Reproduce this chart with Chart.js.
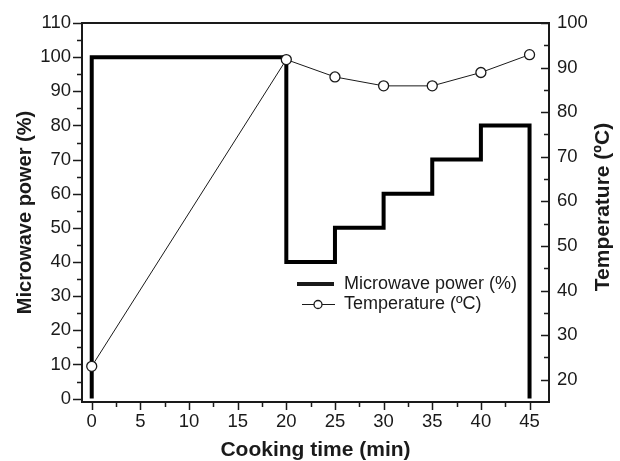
<!DOCTYPE html>
<html>
<head>
<meta charset="utf-8">
<script src="https://cdn.jsdelivr.net/npm/chart.js@4/dist/chart.umd.min.js"></script>
<style>
  html, body { margin: 0; padding: 0; background: #fff; }
  #wrap { width: 620px; height: 461px; }
</style>
</head>
<body>
<div id="wrap"><canvas id="myChart" width="620" height="461"></canvas></div>
<script>
// microwave power steps: each step starts at stepStart[i] with level powerLevels[i]
var stepStart = [0, 20, 25, 30, 35, 40];
var stepEnd = 45;
var powerLevels = [100, 40, 50, 60, 70, 80];

// temperature readings
var tempTimes = [0, 20, 25, 30, 35, 40, 45];
var tempValues = [23.0, 91.8, 87.9, 85.9, 85.9, 88.9, 92.9];

var xTicks = [0, 5, 10, 15, 20, 25, 30, 35, 40, 45];
var powerTicks = [0, 10, 20, 30, 40, 50, 60, 70, 80, 90, 100, 110];
var tempTicks = [20, 30, 40, 50, 60, 70, 80, 90, 100];

var FONT = "'Liberation Sans', Arial, sans-serif";
var INK = '#1a1a1a';

// corner points of the step line
var powerPts = [{x: stepStart[0], y: 0}];
for (var i = 0; i < powerLevels.length; i++) {
  var end = (i + 1 < stepStart.length) ? stepStart[i + 1] : stepEnd;
  powerPts.push({x: stepStart[i], y: powerLevels[i]});
  powerPts.push({x: end, y: powerLevels[i]});
}
powerPts.push({x: stepEnd, y: 0});

var tempPts = tempTimes.map(function (t, k) { return {x: t, y: tempValues[k]}; });

// ticks (major + minor), top frame line, right title and legend
var decor = {
  id: 'decor',
  afterDraw: function (chart) {
    var ctx = chart.ctx;
    var a = chart.chartArea;
    var sx = chart.scales.x, sl = chart.scales.yP, sr = chart.scales.yT;
    ctx.save();
    ctx.strokeStyle = INK;
    ctx.lineWidth = 2;
    ctx.beginPath();
    ctx.moveTo(a.left - 1, a.top);
    ctx.lineTo(a.right + 1, a.top);
    ctx.stroke();

    ctx.lineWidth = 1.5;
    ctx.beginPath();
    var v, p, len;
    for (v = 0; v <= 110; v += 5) {
      p = Math.round(sl.getPixelForValue(v)) + 0.5;
      len = (v % 10 === 0) ? 9 : 5;
      ctx.moveTo(a.left, p); ctx.lineTo(a.left - len, p);
    }
    for (v = 0; v <= 45; v += 2.5) {
      p = Math.round(sx.getPixelForValue(v)) + 0.5;
      len = (v % 5 === 0) ? 8 : 5;
      ctx.moveTo(p, a.bottom); ctx.lineTo(p, a.bottom + len);
    }
    for (v = 20; v <= 100; v += 5) {
      p = Math.round(sr.getPixelForValue(v)) + 0.5;
      len = (v % 10 === 0) ? 8 : 5;
      ctx.moveTo(a.right, p); ctx.lineTo(a.right - len, p);
    }
    ctx.stroke();

    // right axis title, reading bottom to top
    ctx.fillStyle = INK;
    ctx.font = 'bold 21px ' + FONT;
    ctx.textAlign = 'center';
    ctx.textBaseline = 'middle';
    ctx.translate(603, 207);
    ctx.rotate(-Math.PI / 2);
    ctx.fillText('Temperature (ºC)', 0, 0);
    ctx.restore();

    // legend
    ctx.save();
    ctx.strokeStyle = INK;
    ctx.fillStyle = INK;
    ctx.lineWidth = 4;
    ctx.beginPath();
    ctx.moveTo(297, 284); ctx.lineTo(334, 284);
    ctx.stroke();
    ctx.lineWidth = 1;
    ctx.beginPath();
    ctx.moveTo(302, 304.5); ctx.lineTo(335, 304.5);
    ctx.stroke();
    ctx.beginPath();
    ctx.arc(318, 304.5, 4, 0, Math.PI * 2);
    ctx.fillStyle = '#fff';
    ctx.fill();
    ctx.lineWidth = 1.3;
    ctx.stroke();
    ctx.fillStyle = INK;
    ctx.font = '18px ' + FONT;
    ctx.textAlign = 'left';
    ctx.textBaseline = 'middle';
    ctx.fillText('Microwave power (%)', 344, 284);
    ctx.fillText('Temperature (ºC)', 344, 304.5);
    ctx.restore();
  }
};

var tickFont = { family: FONT, size: 18.5 };

var ctx = document.getElementById('myChart');
var myChart = new Chart(ctx, {
  type: 'line',
  data: {
    datasets: [{
      label: 'Temperature (ºC)',
      data: tempPts,
      yAxisID: 'yT',
      borderColor: INK,
      borderWidth: 1,
      pointRadius: 5,
      pointBorderWidth: 1.3,
      pointBackgroundColor: '#fff',
      pointBorderColor: INK,
      tension: 0,
      order: 1
    }, {
      label: 'Microwave power (%)',
      data: powerPts,
      yAxisID: 'yP',
      borderColor: '#000',
      borderWidth: 4,
      borderJoinStyle: 'miter',
      pointRadius: 0,
      tension: 0,
      order: 2
    }]
  },
  options: {
    responsive: false,
    animation: false,
    layout: { padding: { top: 23, left: 0, right: 0, bottom: 0 } },
    plugins: {
      legend: { display: false },
      tooltip: { enabled: false }
    },
    scales: {
      x: {
        type: 'linear',
        min: -1, max: 47,
        afterBuildTicks: function (s) { s.ticks = xTicks.map(function (t) { return {value: t}; }); },
        afterFit: function (s) { s.height = 59; },
        grid: { display: false, drawTicks: false },
        border: { display: true, color: INK, width: 2 },
        ticks: { color: INK, font: tickFont, padding: 9, maxRotation: 0 },
        title: { display: true, text: 'Cooking time (min)', color: INK,
                 font: { family: FONT, size: 21, weight: 'bold', lineHeight: 1 }, padding: { bottom: 0 } }
      },
      yP: {
        type: 'linear',
        position: 'left',
        min: -1, max: 110,
        afterBuildTicks: function (s) { s.ticks = powerTicks.map(function (t) { return {value: t}; }); },
        afterFit: function (s) { s.width = 82; },
        grid: { display: false, drawTicks: false },
        border: { display: true, color: INK, width: 2 },
        ticks: { color: INK, font: tickFont, padding: 11 },
        title: { display: true, text: 'Microwave power (%)', color: INK,
                 font: { family: FONT, size: 20, weight: 'bold', lineHeight: 1 }, padding: { top: 15 } }
      },
      yT: {
        type: 'linear',
        position: 'right',
        min: 15, max: 100,
        afterBuildTicks: function (s) { s.ticks = tempTicks.map(function (t) { return {value: t}; }); },
        afterFit: function (s) { s.width = 71; },
        grid: { display: false, drawTicks: false },
        border: { display: true, color: INK, width: 2 },
        ticks: { color: INK, font: tickFont, padding: 8 }
      }
    }
  },
  plugins: [decor]
});
</script>
</body>
</html>
